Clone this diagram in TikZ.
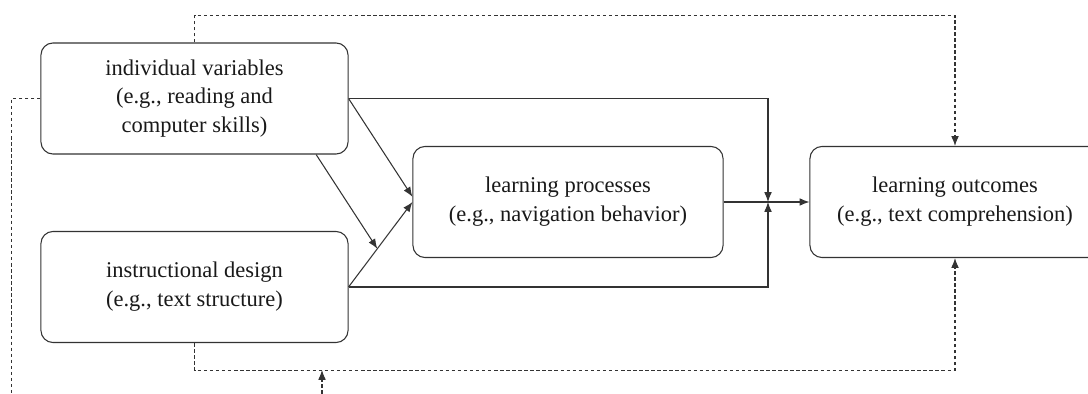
\documentclass[tikz,border=0pt]{standalone}
\usepackage{fontspec}
\setmainfont{Liberation Serif}
\usetikzlibrary{arrows.meta,calc}
\begin{document}
\begin{tikzpicture}[x=0.025cm, y=-0.025cm,
  every node/.style={font=\fontsize{16}{20.5}\selectfont, text=black!90},
  box/.style={draw=black!80, line width=0.75pt, rounded corners=0.3cm, align=center, minimum width=7.675cm, minimum height=2.775cm},
  link/.style={draw=black!80, line width=0.75pt, -{Latex[length=7pt,width=5.5pt]}},
  back/.style={link, dash pattern=on 2.5pt off 1.8pt}]
\useasboundingbox (0,0) rectangle (1088,394);
\node[box] (indiv) at (194.5,98.5) {individual variables\\(e.g., reading and\\computer skills)};
\node[box] (instr) at (194.5,287) {instructional design\\(e.g., text structure)};
\node[box, minimum width=7.75cm] (proc) at (568,202) {learning processes\\(e.g., navigation behavior)};
\node[box, minimum width=7.25cm] (out) at (955,202) {learning outcomes\\(e.g., text comprehension)};
\coordinate (jn) at (768,202);
\coordinate (mod) at ($(instr.east)!0.45!(proc.west)$);
\coordinate (leftend) at (12,394);
\coordinate (botin) at (322,394);
\coordinate (botend) at (322,370);
% direct paths
\draw[link] (indiv.east) -| (jn);
\draw[link] (instr.east) -| (jn);
\draw[link] (proc.east) -- (out.west);
\draw[link] (indiv.east) -- ([yshift=0.13cm]proc.west);
\draw[link] (instr.east) -- (proc.west);
\draw[link] ([xshift=3.04cm]indiv.south) -- (mod);
% dashed paths
\draw[back] (indiv.north) -- ++(0,-27) -| (out.north);
\draw[back] (instr.south) -- ++(0,27) -| (out.south);
\draw[back, -] (indiv.west) -- ++(-29,0) |- (leftend);
\draw[back] (botin) -- (botend);
\end{tikzpicture}
\end{document}
